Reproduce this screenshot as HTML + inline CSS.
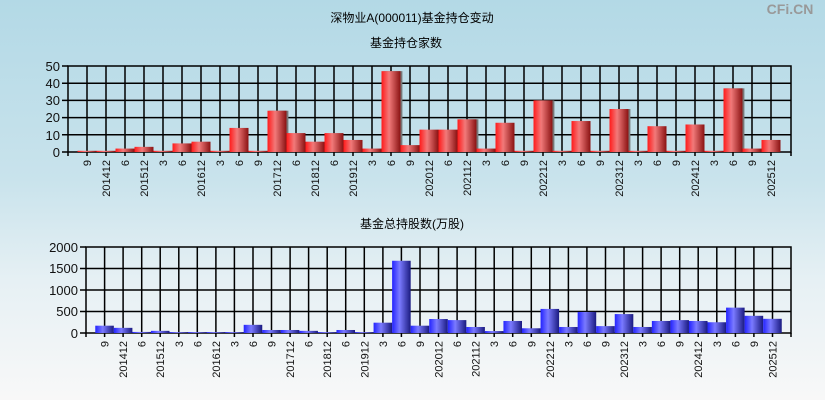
<!DOCTYPE html>
<html><head><meta charset="utf-8"><style>
html,body{margin:0;padding:0}
body{width:825px;height:400px;overflow:hidden;background:linear-gradient(to bottom,#b3d9e6 0%,#c9e3ec 45%,#e6f0f4 70%,#f8f8f8 100%);font-family:"Liberation Sans","Noto Sans CJK SC",sans-serif}
svg{position:absolute;left:0;top:0}
</style></head><body>
<svg width="825" height="400" viewBox="0 0 825 400" font-family="Liberation Sans, Noto Sans CJK SC, sans-serif">
<defs>
<linearGradient id="r" x1="0" y1="0" x2="1" y2="0"><stop offset="0" stop-color="#ff1a1a"/><stop offset="0.4" stop-color="#f27a7a"/><stop offset="1" stop-color="#8a1212"/></linearGradient>
<linearGradient id="b" x1="0" y1="0" x2="1" y2="0"><stop offset="0" stop-color="#2323ff"/><stop offset="0.4" stop-color="#7a7aff"/><stop offset="1" stop-color="#1a1a80"/></linearGradient>
</defs>
<text x="412" y="22" font-size="12" text-anchor="middle">深物业A(000011)基金持仓变动</text>
<text x="790" y="14" font-size="14" fill="#999" text-anchor="middle" font-weight="bold">CFi.CN</text>
<text x="406" y="47" font-size="12" text-anchor="middle">基金持仓家数</text>
<text x="412" y="228" font-size="12" text-anchor="middle">基金总持股数(万股)</text>

<!-- top grid -->
<g stroke="#000" stroke-width="1.5" fill="none">
<rect x="68" y="66" width="723" height="86"/>
<path d="M68 83.2H791M68 100.4H791M68 117.6H791M68 134.8H791M62 152H68M62 134.8H68M62 117.6H68M62 100.4H68M62 83.2H68M62 66H68"/>
<path d="M87 66V156M106 66V156M125 66V156M144 66V156M163 66V156M182 66V156M201 66V156M220 66V156M239 66V156M258 66V156M277 66V156M296 66V156M315 66V156M334 66V156M353 66V156M372 66V156M391 66V156M410 66V156M429 66V156M448 66V156M467 66V156M486 66V156M505 66V156M524 66V156M543 66V156M562 66V156M581 66V156M600 66V156M619 66V156M638 66V156M657 66V156M676 66V156M695 66V156M714 66V156M733 66V156M752 66V156M771 66V156M68 152V156M791 152V156"/>
</g>
<g transform="translate(68,152) scale(19,-1.72)">
<g fill="#777" transform="translate(0.1,0)">
<rect x="16.5" y="0" width="1" height="47"/><rect x="10.5" y="0" width="1" height="24"/><rect x="24.5" y="0" width="1" height="30"/><rect x="28.5" y="0" width="1" height="25"/><rect x="34.5" y="0" width="1" height="37"/><rect x="20.5" y="0" width="1" height="19"/>
</g>
<g fill="url(#r)">
<rect x="0.5" y="0" width="1" height="0.7"/><rect x="1.5" y="0" width="1" height="0.7"/><rect x="2.5" y="0" width="1" height="2"/><rect x="3.5" y="0" width="1" height="3"/><rect x="4.5" y="0" width="1" height="0.7"/><rect x="5.5" y="0" width="1" height="5"/><rect x="6.5" y="0" width="1" height="6"/><rect x="7.5" y="0" width="1" height="0.7"/><rect x="8.5" y="0" width="1" height="14"/><rect x="9.5" y="0" width="1" height="0.7"/><rect x="10.5" y="0" width="1" height="24"/><rect x="11.5" y="0" width="1" height="11"/><rect x="12.5" y="0" width="1" height="6"/><rect x="13.5" y="0" width="1" height="11"/><rect x="14.5" y="0" width="1" height="7"/><rect x="15.5" y="0" width="1" height="2"/><rect x="16.5" y="0" width="1" height="47"/><rect x="17.5" y="0" width="1" height="4"/><rect x="18.5" y="0" width="1" height="13"/><rect x="19.5" y="0" width="1" height="13"/><rect x="20.5" y="0" width="1" height="19"/><rect x="21.5" y="0" width="1" height="2"/><rect x="22.5" y="0" width="1" height="17"/><rect x="23.5" y="0" width="1" height="0.7"/><rect x="24.5" y="0" width="1" height="30"/><rect x="25.5" y="0" width="1" height="0.7"/><rect x="26.5" y="0" width="1" height="18"/><rect x="27.5" y="0" width="1" height="0.7"/><rect x="28.5" y="0" width="1" height="25"/><rect x="29.5" y="0" width="1" height="0.7"/><rect x="30.5" y="0" width="1" height="15"/><rect x="31.5" y="0" width="1" height="0.7"/><rect x="32.5" y="0" width="1" height="16"/><rect x="33.5" y="0" width="1" height="0.7"/><rect x="34.5" y="0" width="1" height="37"/><rect x="35.5" y="0" width="1" height="2"/><rect x="36.5" y="0" width="1" height="7"/>
</g></g>
<g font-size="13" text-anchor="end" fill="#111">
<text x="60" y="71">50</text><text x="60" y="88">40</text><text x="60" y="105">30</text><text x="60" y="122">20</text><text x="60" y="140">10</text><text x="60" y="157">0</text>
</g>
<g font-size="11" text-anchor="end" fill="#111">
<text transform="translate(91,160) rotate(-90)">9</text><text transform="translate(110,160) rotate(-90)">201412</text><text transform="translate(129,160) rotate(-90)">6</text><text transform="translate(148,160) rotate(-90)">201512</text><text transform="translate(167,160) rotate(-90)">3</text><text transform="translate(186,160) rotate(-90)">6</text><text transform="translate(205,160) rotate(-90)">201612</text><text transform="translate(224,160) rotate(-90)">3</text><text transform="translate(243,160) rotate(-90)">6</text><text transform="translate(262,160) rotate(-90)">9</text><text transform="translate(281,160) rotate(-90)">201712</text><text transform="translate(300,160) rotate(-90)">6</text><text transform="translate(319,160) rotate(-90)">201812</text><text transform="translate(338,160) rotate(-90)">6</text><text transform="translate(357,160) rotate(-90)">201912</text><text transform="translate(376,160) rotate(-90)">3</text><text transform="translate(395,160) rotate(-90)">6</text><text transform="translate(414,160) rotate(-90)">9</text><text transform="translate(433,160) rotate(-90)">202012</text><text transform="translate(452,160) rotate(-90)">6</text><text transform="translate(471,160) rotate(-90)">202112</text><text transform="translate(490,160) rotate(-90)">3</text><text transform="translate(509,160) rotate(-90)">6</text><text transform="translate(528,160) rotate(-90)">9</text><text transform="translate(547,160) rotate(-90)">202212</text><text transform="translate(566,160) rotate(-90)">3</text><text transform="translate(585,160) rotate(-90)">6</text><text transform="translate(604,160) rotate(-90)">9</text><text transform="translate(623,160) rotate(-90)">202312</text><text transform="translate(642,160) rotate(-90)">3</text><text transform="translate(661,160) rotate(-90)">6</text><text transform="translate(680,160) rotate(-90)">9</text><text transform="translate(699,160) rotate(-90)">202412</text><text transform="translate(718,160) rotate(-90)">3</text><text transform="translate(737,160) rotate(-90)">6</text><text transform="translate(756,160) rotate(-90)">9</text><text transform="translate(775,160) rotate(-90)">202512</text>
</g>

<!-- bottom grid -->
<g stroke="#000" stroke-width="1.5" fill="none">
<rect x="86" y="247" width="705" height="86"/>
<path d="M86 268.5H791M86 290H791M86 311.5H791M80 333H86M80 311.5H86M80 290H86M80 268.5H86M80 247H86"/>
<path d="M104.6 247V337M123.1 247V337M141.7 247V337M160.2 247V337M178.8 247V337M197.3 247V337M215.9 247V337M234.4 247V337M253 247V337M271.5 247V337M290.1 247V337M308.6 247V337M327.2 247V337M345.7 247V337M364.3 247V337M382.9 247V337M401.4 247V337M420 247V337M438.5 247V337M457.1 247V337M475.6 247V337M494.2 247V337M512.7 247V337M531.3 247V337M549.8 247V337M568.4 247V337M586.9 247V337M605.5 247V337M624 247V337M642.6 247V337M661.1 247V337M679.7 247V337M698.2 247V337M716.8 247V337M735.4 247V337M753.9 247V337M772.5 247V337M86 333V337M791 333V337"/>
</g>
<g transform="translate(86,333) scale(18.553,-0.043)">
<g fill="url(#b)">
<rect x="0.5" y="0" width="1" height="170"/><rect x="1.5" y="0" width="1" height="120"/><rect x="2.5" y="0" width="1" height="25"/><rect x="3.5" y="0" width="1" height="50"/><rect x="4.5" y="0" width="1" height="20"/><rect x="5.5" y="0" width="1" height="20"/><rect x="6.5" y="0" width="1" height="20"/><rect x="7.5" y="0" width="1" height="20"/><rect x="8.5" y="0" width="1" height="190"/><rect x="9.5" y="0" width="1" height="70"/><rect x="10.5" y="0" width="1" height="70"/><rect x="11.5" y="0" width="1" height="50"/><rect x="12.5" y="0" width="1" height="20"/><rect x="13.5" y="0" width="1" height="70"/><rect x="14.5" y="0" width="1" height="20"/><rect x="15.5" y="0" width="1" height="240"/><rect x="16.5" y="0" width="1" height="1680"/><rect x="17.5" y="0" width="1" height="170"/><rect x="18.5" y="0" width="1" height="325"/><rect x="19.5" y="0" width="1" height="300"/><rect x="20.5" y="0" width="1" height="140"/><rect x="21.5" y="0" width="1" height="45"/><rect x="22.5" y="0" width="1" height="280"/><rect x="23.5" y="0" width="1" height="110"/><rect x="24.5" y="0" width="1" height="560"/><rect x="25.5" y="0" width="1" height="140"/><rect x="26.5" y="0" width="1" height="490"/><rect x="27.5" y="0" width="1" height="160"/><rect x="28.5" y="0" width="1" height="440"/><rect x="29.5" y="0" width="1" height="140"/><rect x="30.5" y="0" width="1" height="280"/><rect x="31.5" y="0" width="1" height="300"/><rect x="32.5" y="0" width="1" height="280"/><rect x="33.5" y="0" width="1" height="250"/><rect x="34.5" y="0" width="1" height="590"/><rect x="35.5" y="0" width="1" height="400"/><rect x="36.5" y="0" width="1" height="330"/>
</g></g>
<g font-size="13" text-anchor="end" fill="#111">
<text x="78" y="252">2000</text><text x="78" y="273">1500</text><text x="78" y="295">1000</text><text x="78" y="316">500</text><text x="78" y="338">0</text>
</g>
<g font-size="11" text-anchor="end" fill="#111">
<text transform="translate(108.6,341) rotate(-90)">9</text><text transform="translate(127.1,341) rotate(-90)">201412</text><text transform="translate(145.7,341) rotate(-90)">6</text><text transform="translate(164.2,341) rotate(-90)">201512</text><text transform="translate(182.8,341) rotate(-90)">3</text><text transform="translate(201.3,341) rotate(-90)">6</text><text transform="translate(219.9,341) rotate(-90)">201612</text><text transform="translate(238.4,341) rotate(-90)">3</text><text transform="translate(257,341) rotate(-90)">6</text><text transform="translate(275.5,341) rotate(-90)">9</text><text transform="translate(294.1,341) rotate(-90)">201712</text><text transform="translate(312.6,341) rotate(-90)">6</text><text transform="translate(331.2,341) rotate(-90)">201812</text><text transform="translate(349.7,341) rotate(-90)">6</text><text transform="translate(368.3,341) rotate(-90)">201912</text><text transform="translate(386.9,341) rotate(-90)">3</text><text transform="translate(405.4,341) rotate(-90)">6</text><text transform="translate(424,341) rotate(-90)">9</text><text transform="translate(442.5,341) rotate(-90)">202012</text><text transform="translate(461.1,341) rotate(-90)">6</text><text transform="translate(479.6,341) rotate(-90)">202112</text><text transform="translate(498.2,341) rotate(-90)">3</text><text transform="translate(516.7,341) rotate(-90)">6</text><text transform="translate(535.3,341) rotate(-90)">9</text><text transform="translate(553.8,341) rotate(-90)">202212</text><text transform="translate(572.4,341) rotate(-90)">3</text><text transform="translate(590.9,341) rotate(-90)">6</text><text transform="translate(609.5,341) rotate(-90)">9</text><text transform="translate(628,341) rotate(-90)">202312</text><text transform="translate(646.6,341) rotate(-90)">3</text><text transform="translate(665.1,341) rotate(-90)">6</text><text transform="translate(683.7,341) rotate(-90)">9</text><text transform="translate(702.2,341) rotate(-90)">202412</text><text transform="translate(720.8,341) rotate(-90)">3</text><text transform="translate(739.4,341) rotate(-90)">6</text><text transform="translate(757.9,341) rotate(-90)">9</text><text transform="translate(776.5,341) rotate(-90)">202512</text>
</g>
</svg>
</body></html>
